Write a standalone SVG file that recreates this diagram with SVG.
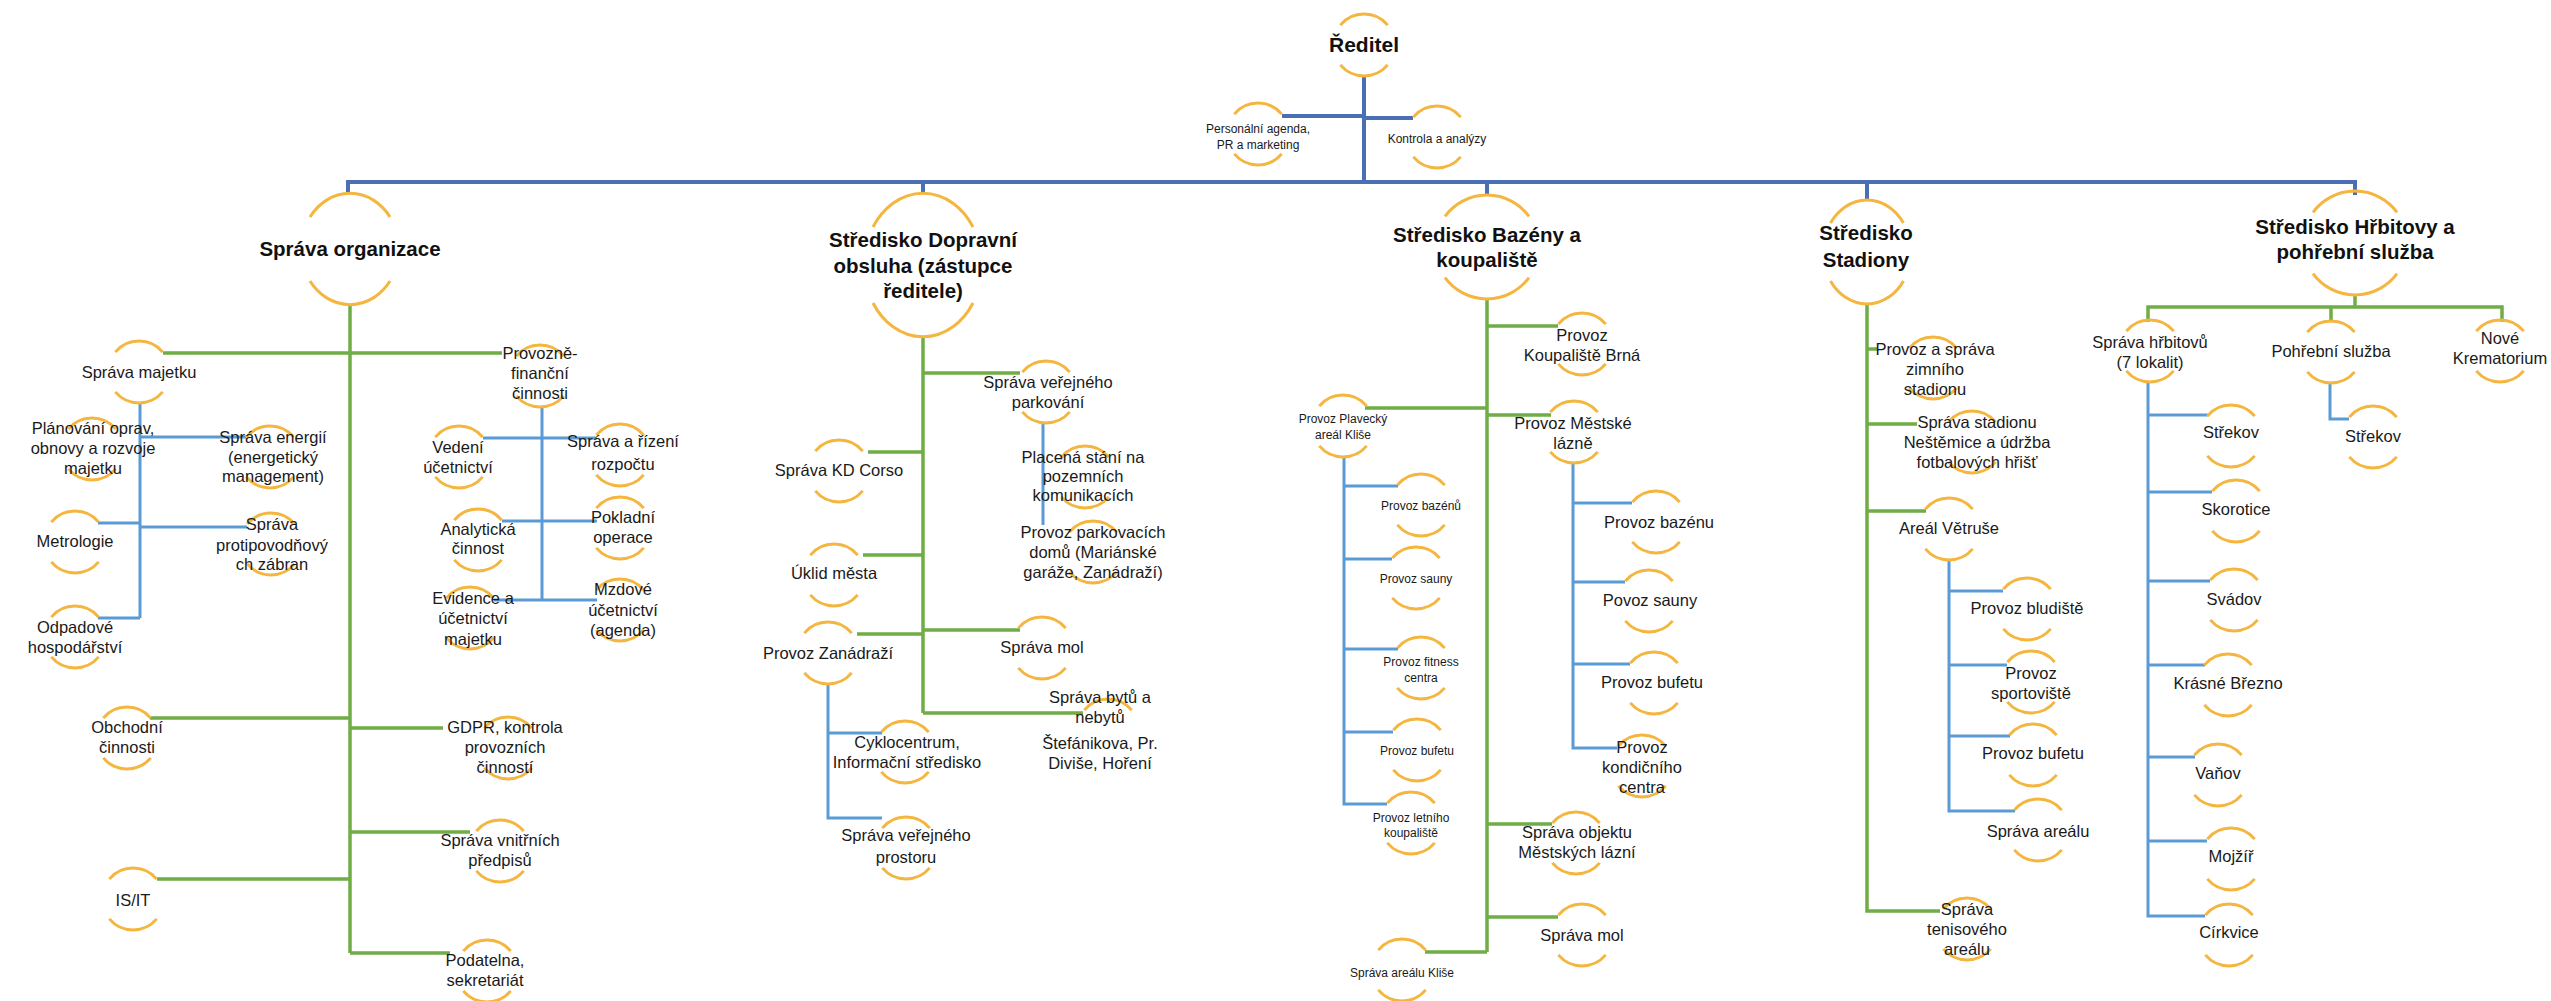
<svg xmlns="http://www.w3.org/2000/svg" width="2551" height="1001" viewBox="0 0 2551 1001">
<style>
.arc{fill:none;stroke:#F4B63F;stroke-width:3}
.top{fill:none;stroke:#4A6FB5;stroke-width:4}
.grn{fill:none;stroke:#70AD47;stroke-width:3.5}
.sub{fill:none;stroke:#5B9BD5;stroke-width:3}
text{font-family:"Liberation Sans",Arial,sans-serif;fill:#1a1a1a;text-anchor:middle}
.t{font-size:16.5px}
.tb{font-size:20.5px;font-weight:bold;fill:#111}
.ts{font-size:12px}
</style>
<defs>
<path id="a31" class="arc" d="M-23.7,-19.9A31,31 0 0 1 23.7,-19.9M-23.7,19.9A31,31 0 0 0 23.7,19.9"/>
<path id="a31t" class="arc" d="M-23.7,-19.9A31,31 0 0 1 23.7,-19.9"/>
<path id="aOrg" class="arc" d="M-40,-32A49,56 0 0 1 40,-32M-40,32A49,56 0 0 0 40,32"/>
<path id="aDop" class="arc" d="M-50,-38A59,72 0 0 1 50,-38M-50,38A59,72 0 0 0 50,38"/>
<path id="aBaz" class="arc" d="M-42,-30.6A52,52 0 0 1 42,-30.6M-42,30.6A52,52 0 0 0 42,30.6"/>
<path id="aSta" class="arc" d="M-36.5,-29A44,52 0 0 1 36.5,-29M-36.5,29A44,52 0 0 0 36.5,29"/>
</defs>
<rect width="2551" height="1001" fill="#fff"/>
<g id="connectors">
<path class="top" d="M1364,76V182M1282,116H1364M1364,118H1413M348,193V182H2355V195M923,182V193M1487,182V195M1867,182V200"/>
<path class="grn" d="M350,305V953M163,353H502M150,718H350M350,728H443M350,832H470M157,879H350M350,953H450"/>
<path class="sub" d="M140,402V618M140,437H246M98,523H140M140,527H247M98,618H140"/>
<path class="sub" d="M542,407V600M483,438H597M502,521H597M494,600H597"/>
<path class="grn" d="M923,337V713M923,373H1020M868,452H923M863,555H923M857,634H923M923,630H1020M923,713H1083"/>
<path class="sub" d="M1043,422V525M828,683V818H882M828,733H882"/>
<path class="grn" d="M1487,300V952M1487,326H1558M1365,408H1487M1487,415H1551M1487,824H1552M1487,917H1558M1425,952H1487"/>
<path class="sub" d="M1344,457V804H1387M1344,486H1398M1344,559H1392M1344,649H1398M1344,732H1393M1573,462V748H1617M1573,503H1632M1573,582H1625M1573,664H1630"/>
<path class="grn" d="M1867,305V911H1940M1867,349H1877M1867,424H1917M1867,511H1926"/>
<path class="sub" d="M1949,560V811H2015M1949,591H2003M1949,665H2007M1949,736H2010"/>
<path class="grn" d="M2355,294V307M2148,322V307H2502V322M2331,307V322"/>
<path class="sub" d="M2148,382V916H2205M2148,415H2208M2148,492H2212M2148,581H2210M2148,665H2205M2148,757H2195M2148,841H2207M2330,382V419H2349"/>
</g>
<g id="n-reditel"><use href="#a31" x="1364" y="45"/><text class="tb" x="1364" y="52" style="font-size:21px">Ředitel</text></g>
<g id="n-personalni"><use href="#a31" x="1258" y="134"/><text class="ts" x="1258"><tspan x="1258" y="132.5">Personální agenda,</tspan><tspan x="1258" y="148.5">PR a marketing</tspan></text></g>
<g id="n-kontrola"><use href="#a31" x="1437" y="137"/><text class="ts" x="1437" y="142.5">Kontrola a analýzy</text></g>

<g id="n-sprava-org"><use href="#aOrg" x="350" y="249"/><text class="tb" x="350" y="256">Správa organizace</text></g>
<g id="n-majetek"><use href="#a31" x="139" y="372"/><text class="t" x="139" y="378">Správa majetku</text></g>
<g id="n-provozne"><use href="#a31" x="540" y="376"/><text class="t"><tspan x="540" y="359">Provozně-</tspan><tspan x="540" y="379">finanční</tspan><tspan x="540" y="399">činnosti</tspan></text></g>
<g id="n-planovani"><use href="#a31" x="92" y="449"/><text class="t"><tspan x="93" y="434">Plánování oprav,</tspan><tspan x="93" y="454">obnovy a rozvoje</tspan><tspan x="93" y="474">majetku</tspan></text></g>
<g id="n-energie"><use href="#a31" x="270" y="457"/><text class="t"><tspan x="273" y="443">Správa energií</tspan><tspan x="273" y="463">(energetický</tspan><tspan x="273" y="482">management)</tspan></text></g>
<g id="n-metrologie"><use href="#a31" x="75" y="542"/><text class="t" x="75" y="547">Metrologie</text></g>
<g id="n-protipovodnove"><use href="#a31" x="271" y="544"/><text class="t"><tspan x="272" y="530">Správa</tspan><tspan x="272" y="551">protipovodňový</tspan><tspan x="272" y="570">ch zábran</tspan></text></g>
<g id="n-odpady"><use href="#a31" x="75" y="637"/><text class="t"><tspan x="75" y="633">Odpadové</tspan><tspan x="75" y="653">hospodářství</tspan></text></g>
<g id="n-obchodni"><use href="#a31" x="127" y="738"/><text class="t"><tspan x="127" y="733">Obchodní</tspan><tspan x="127" y="753">činnosti</tspan></text></g>
<g id="n-gdpr"><use href="#a31" x="508" y="748"/><text class="t"><tspan x="505" y="733">GDPR, kontrola</tspan><tspan x="505" y="753">provozních</tspan><tspan x="505" y="773">činností</tspan></text></g>
<g id="n-predpisy"><use href="#a31" x="500" y="851"/><text class="t"><tspan x="500" y="846">Správa vnitřních</tspan><tspan x="500" y="866">předpisů</tspan></text></g>
<g id="n-isit"><use href="#a31" x="133" y="899"/><text class="t" x="133" y="906">IS/IT</text></g>
<g id="n-podatelna"><use href="#a31" x="487" y="971"/><text class="t"><tspan x="485" y="966">Podatelna,</tspan><tspan x="485" y="986">sekretariát</tspan></text></g>
<g id="n-vedeni"><use href="#a31" x="459" y="457"/><text class="t"><tspan x="458" y="453">Vedení</tspan><tspan x="458" y="473">účetnictví</tspan></text></g>
<g id="n-analyticka"><use href="#a31" x="478" y="540"/><text class="t"><tspan x="478" y="535">Analytická</tspan><tspan x="478" y="554">činnost</tspan></text></g>
<g id="n-evidence"><use href="#a31" x="470" y="618"/><text class="t"><tspan x="473" y="604">Evidence a</tspan><tspan x="473" y="624">účetnictví</tspan><tspan x="473" y="645">majetku</tspan></text></g>
<g id="n-rozpocet"><use href="#a31" x="620" y="455"/><text class="t"><tspan x="623" y="447">Správa a řízení</tspan><tspan x="623" y="470">rozpočtu</tspan></text></g>
<g id="n-pokladni"><use href="#a31" x="620" y="528"/><text class="t"><tspan x="623" y="523">Pokladní</tspan><tspan x="623" y="543">operace</tspan></text></g>
<g id="n-mzdove"><use href="#a31" x="620" y="610"/><text class="t"><tspan x="623" y="595">Mzdové</tspan><tspan x="623" y="616">účetnictví</tspan><tspan x="623" y="636">(agenda)</tspan></text></g>

<g id="n-dopravni"><use href="#aDop" x="923" y="265"/><text class="tb"><tspan x="923" y="246.5">Středisko Dopravní</tspan><tspan x="923" y="272.5">obsluha (zástupce</tspan><tspan x="923" y="297.5">ředitele)</tspan></text></g>
<g id="n-parkovani"><use href="#a31" x="1046" y="392"/><text class="t"><tspan x="1048" y="388">Správa veřejného</tspan><tspan x="1048" y="408">parkování</tspan></text></g>
<g id="n-placena"><use href="#a31" x="1085" y="477"/><text class="t"><tspan x="1083" y="463">Placená stání na</tspan><tspan x="1083" y="482">pozemních</tspan><tspan x="1083" y="501">komunikacích</tspan></text></g>
<g id="n-parkdomy"><use href="#a31" x="1093" y="552"/><text class="t"><tspan x="1093" y="538">Provoz parkovacích</tspan><tspan x="1093" y="558">domů (Mariánské</tspan><tspan x="1093" y="578">garáže, Zanádraží)</tspan></text></g>
<g id="n-corso"><use href="#a31" x="839" y="471"/><text class="t" x="839" y="476">Správa KD Corso</text></g>
<g id="n-uklid"><use href="#a31" x="834" y="575"/><text class="t" x="834" y="579">Úklid města</text></g>
<g id="n-zanadrazi"><use href="#a31" x="828" y="653"/><text class="t" x="828" y="659">Provoz Zanádraží</text></g>
<g id="n-mol1"><use href="#a31" x="1042" y="648"/><text class="t" x="1042" y="653">Správa mol</text></g>
<g id="n-byty"><use href="#a31t" x="1108" y="730"/><text class="t"><tspan x="1100" y="703">Správa bytů a</tspan><tspan x="1100" y="723">nebytů</tspan><tspan x="1100" y="749">Štefánikova, Pr.</tspan><tspan x="1100" y="769">Diviše, Hoření</tspan></text></g>
<g id="n-cyklo"><use href="#a31" x="905" y="752"/><text class="t"><tspan x="907" y="748">Cyklocentrum,</tspan><tspan x="907" y="768">Informační středisko</tspan></text></g>
<g id="n-prostor"><use href="#a31" x="906" y="848"/><text class="t"><tspan x="906" y="841">Správa veřejného</tspan><tspan x="906" y="863">prostoru</tspan></text></g>

<g id="n-bazeny"><use href="#aBaz" x="1487" y="247"/><text class="tb"><tspan x="1487" y="241.5">Středisko Bazény a</tspan><tspan x="1487" y="266.5">koupaliště</tspan></text></g>
<g id="n-brna"><use href="#a31" x="1582" y="344"/><text class="t"><tspan x="1582" y="341">Provoz</tspan><tspan x="1582" y="361">Koupaliště Brná</tspan></text></g>
<g id="n-plavecky"><use href="#a31" x="1343" y="426"/><text class="ts"><tspan x="1343" y="422.5">Provoz Plavecký</tspan><tspan x="1343" y="438.5">areál Kliše</tspan></text></g>
<g id="n-lazne"><use href="#a31" x="1574" y="432"/><text class="t"><tspan x="1573" y="429">Provoz Městské</tspan><tspan x="1573" y="449">lázně</tspan></text></g>
<g id="n-pk-bazenu"><use href="#a31" x="1421" y="505"/><text class="ts" x="1421" y="509.5">Provoz bazénů</text></g>
<g id="n-pk-sauny"><use href="#a31" x="1416" y="578"/><text class="ts" x="1416" y="582.5">Provoz sauny</text></g>
<g id="n-pk-fitness"><use href="#a31" x="1421" y="668"/><text class="ts"><tspan x="1421" y="665.5">Provoz fitness</tspan><tspan x="1421" y="681.5">centra</tspan></text></g>
<g id="n-pk-bufet"><use href="#a31" x="1417" y="750"/><text class="ts" x="1417" y="754.5">Provoz bufetu</text></g>
<g id="n-pk-letni"><use href="#a31" x="1411" y="823"/><text class="ts"><tspan x="1411" y="821.5">Provoz letního</tspan><tspan x="1411" y="836.5">koupaliště</tspan></text></g>
<g id="n-ml-bazenu"><use href="#a31" x="1656" y="522"/><text class="t" x="1659" y="528">Provoz bazénu</text></g>
<g id="n-ml-sauny"><use href="#a31" x="1649" y="601"/><text class="t" x="1650" y="606">Povoz sauny</text></g>
<g id="n-ml-bufet"><use href="#a31" x="1654" y="683"/><text class="t" x="1652" y="688">Provoz bufetu</text></g>
<g id="n-ml-kondicni"><use href="#a31" x="1642" y="766"/><text class="t"><tspan x="1642" y="753">Provoz</tspan><tspan x="1642" y="773">kondičního</tspan><tspan x="1642" y="793">centra</tspan></text></g>
<g id="n-objekt-lazni"><use href="#a31" x="1576" y="843"/><text class="t"><tspan x="1577" y="838">Správa objektu</tspan><tspan x="1577" y="858">Městských lázní</tspan></text></g>
<g id="n-mol2"><use href="#a31" x="1582" y="935"/><text class="t" x="1582" y="941">Správa mol</text></g>
<g id="n-arealklise"><use href="#a31" x="1402" y="970"/><text class="ts" x="1402" y="976.5">Správa areálu Kliše</text></g>

<g id="n-stadiony"><use href="#aSta" x="1867" y="252"/><text class="tb"><tspan x="1866" y="240">Středisko</tspan><tspan x="1866" y="267">Stadiony</tspan></text></g>
<g id="n-zimni"><use href="#a31" x="1933" y="368"/><text class="t"><tspan x="1935" y="355">Provoz a správa</tspan><tspan x="1935" y="375">zimního</tspan><tspan x="1935" y="395">stadionu</tspan></text></g>
<g id="n-nestemice"><use href="#a31" x="1972" y="442"/><text class="t"><tspan x="1977" y="428">Správa stadionu</tspan><tspan x="1977" y="448">Neštěmice a údržba</tspan><tspan x="1977" y="468">fotbalových hřišť</tspan></text></g>
<g id="n-vetruse"><use href="#a31" x="1949" y="529"/><text class="t" x="1949" y="534">Areál Větruše</text></g>
<g id="n-bludiste"><use href="#a31" x="2027" y="609"/><text class="t" x="2027" y="614">Provoz bludiště</text></g>
<g id="n-sportoviste"><use href="#a31" x="2031" y="682"/><text class="t"><tspan x="2031" y="679">Provoz</tspan><tspan x="2031" y="699">sportoviště</tspan></text></g>
<g id="n-st-bufet"><use href="#a31" x="2033" y="755"/><text class="t" x="2033" y="759">Provoz bufetu</text></g>
<g id="n-st-areal"><use href="#a31" x="2038" y="830"/><text class="t" x="2038" y="837">Správa areálu</text></g>
<g id="n-tenis"><use href="#a31" x="1967" y="929"/><text class="t"><tspan x="1967" y="915">Správa</tspan><tspan x="1967" y="935">tenisového</tspan><tspan x="1967" y="955">areálu</tspan></text></g>

<g id="n-hrbitovy"><use href="#aBaz" x="2355" y="243"/><text class="tb"><tspan x="2355" y="233.5">Středisko Hřbitovy a</tspan><tspan x="2355" y="259">pohřební služba</tspan></text></g>
<g id="n-sprava-hrbitovu"><use href="#a31" x="2150" y="351"/><text class="t"><tspan x="2150" y="348">Správa hřbitovů</tspan><tspan x="2150" y="368">(7 lokalit)</tspan></text></g>
<g id="n-pohrebni"><use href="#a31" x="2331" y="352"/><text class="t" x="2331" y="357">Pohřební služba</text></g>
<g id="n-krematorium"><use href="#a31" x="2500" y="351"/><text class="t"><tspan x="2500" y="344">Nové</tspan><tspan x="2500" y="364">Krematorium</tspan></text></g>
<g id="n-ps-strekov"><use href="#a31" x="2373" y="437"/><text class="t" x="2373" y="442">Střekov</text></g>
<g id="n-strekov"><use href="#a31" x="2231" y="436"/><text class="t" x="2231" y="438">Střekov</text></g>
<g id="n-skorotice"><use href="#a31" x="2236" y="511"/><text class="t" x="2236" y="515">Skorotice</text></g>
<g id="n-svadov"><use href="#a31" x="2234" y="600"/><text class="t" x="2234" y="605">Svádov</text></g>
<g id="n-brezno"><use href="#a31" x="2228" y="685"/><text class="t" x="2228" y="689">Krásné Březno</text></g>
<g id="n-vanov"><use href="#a31" x="2218" y="775"/><text class="t" x="2218" y="779">Vaňov</text></g>
<g id="n-mojzir"><use href="#a31" x="2231" y="859"/><text class="t" x="2231" y="862">Mojžíř</text></g>
<g id="n-cirkvice"><use href="#a31" x="2229" y="935"/><text class="t" x="2229" y="938">Církvice</text></g>
</svg>
